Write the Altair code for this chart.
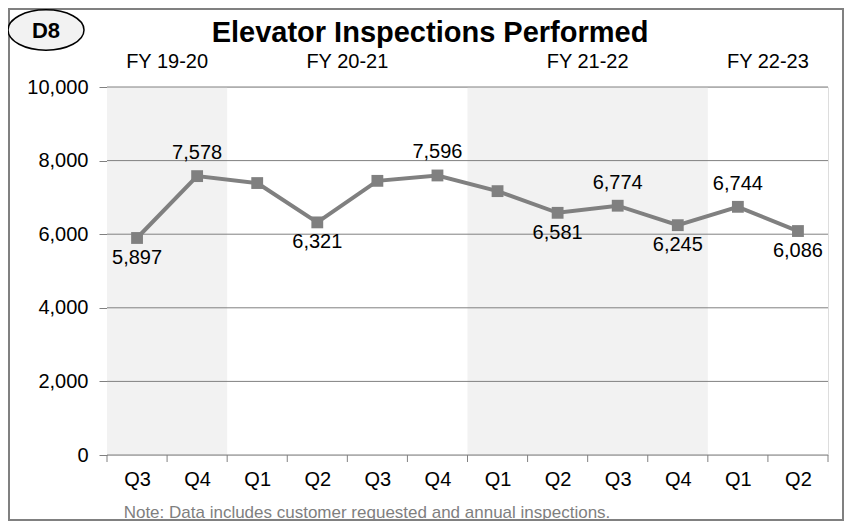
import altair as alt
import pandas as pd

# ---- data ----
quarters = ["Q3", "Q4", "Q1", "Q2", "Q3", "Q4", "Q1", "Q2", "Q3", "Q4", "Q1", "Q2"]
inspections = [5897, 7578, 7390, 6321, 7450, 7596, 7170, 6581, 6774, 6245, 6744, 6086]
label_pos = ["below", "above", "none", "below", "none", "above", "none", "below", "above", "below", "above", "below"]
fy_labels = ["FY 19-20", "FY 20-21", "FY 21-22", "FY 22-23"]
fy_counts = [2, 4, 4, 2]
y_ticks = [0, 2000, 4000, 6000, 8000, 10000]
title_text = "Elevator Inspections Performed"
badge_text = "D8"
note_text = "Note: Data includes customer requested and annual inspections."

FONT = "Liberation Sans"
GRAY = "#808080"
W, H = 721, 368
PL, PT, PR, PB = 99, 79, 16, 66

df = pd.DataFrame({
    "pos": [i + 0.5 for i in range(len(quarters))],
    "q": quarters,
    "v": inspections,
    "lp": label_pos,
})
df["lbl"] = df["v"].map(lambda v: f"{v:,}")

starts = []
s = 0
for c in fy_counts:
    starts.append(s)
    s += c
fy_df = pd.DataFrame({
    "fy": fy_labels,
    "start": starts,
    "end": [a + c for a, c in zip(starts, fy_counts)],
    "mid": [a + c / 2 for a, c in zip(starts, fy_counts)],
    "shade": [i % 2 == 0 for i in range(len(fy_labels))],
})
bounds_df = pd.DataFrame({"b": list(range(len(quarters) + 1))})
one = pd.DataFrame({"k": [0]})

xscale = alt.Scale(domain=[0, len(quarters)], nice=False, zero=False)
yscale = alt.Scale(domain=[0, 10000], nice=False)

label_arr = "[" + ",".join(f"'{q}'" for q in quarters) + "]"

bands = alt.Chart(fy_df).transform_filter("datum.shade").mark_rect(color="#f2f2f2").encode(
    x=alt.X("start:Q", scale=xscale, axis=alt.Axis(
        values=[i + 0.5 for i in range(len(quarters))],
        labelExpr=f"{label_arr}[floor(datum.value)]",
        ticks=False, domain=False, grid=False, title=None,
        labelFont=FONT, labelFontSize=20, labelColor="black", labelPadding=14,
    )),
    x2="end:Q",
    y=alt.value(0),
    y2=alt.value(H),
)

grid = alt.Chart(pd.DataFrame({"t": y_ticks})).mark_rule(color=GRAY, strokeWidth=1).encode(
    y=alt.Y("t:Q", scale=yscale, axis=alt.Axis(
        values=y_ticks, format=",d", title=None, grid=False, domain=False,
        tickColor=GRAY, tickSize=8, tickWidth=1,
        labelFont=FONT, labelFontSize=20, labelColor="black", labelPadding=11,
    )),
)

xticks = alt.Chart(bounds_df).mark_rule(color=GRAY, strokeWidth=1).encode(
    x=alt.X("b:Q", scale=xscale),
    y=alt.value(H),
    y2=alt.value(H + 7),
)

line = alt.Chart(df).mark_line(color=GRAY, strokeWidth=4).encode(
    x=alt.X("pos:Q", scale=xscale),
    y=alt.Y("v:Q", scale=yscale),
)
pts = alt.Chart(df).mark_square(color=GRAY, size=140, opacity=1).encode(
    x=alt.X("pos:Q", scale=xscale),
    y=alt.Y("v:Q", scale=yscale),
)
above = alt.Chart(df).transform_filter("datum.lp == 'above'").mark_text(
    font=FONT, fontSize=20, color="black", baseline="alphabetic", dy=-17
).encode(x=alt.X("pos:Q", scale=xscale), y=alt.Y("v:Q", scale=yscale), text="lbl:N")
below = alt.Chart(df).transform_filter("datum.lp == 'below'").mark_text(
    font=FONT, fontSize=20, color="black", baseline="top", dy=10
).encode(x=alt.X("pos:Q", scale=xscale), y=alt.Y("v:Q", scale=yscale), text="lbl:N")

fy_text = alt.Chart(fy_df).mark_text(
    font=FONT, fontSize=20, color="black", baseline="middle"
).encode(x=alt.X("mid:Q", scale=xscale), y=alt.value(-25), text="fy:N")

frame = alt.Chart(one).mark_rect(fill=None, stroke=GRAY, strokeWidth=2).encode(
    x=alt.value(-PL + 1), x2=alt.value(W + PR - 1),
    y=alt.value(-PT + 1), y2=alt.value(H + PB - 1),
)

title = alt.Chart(one).mark_text(
    font=FONT, fontSize=29, fontWeight="bold", color="black", baseline="middle"
).encode(x=alt.value(323), y=alt.value(-54), text=alt.value(title_text))

ellipse_path = "M -1 0 A 1 0.53 0 1 1 1 0 A 1 0.53 0 1 1 -1 0 Z"
badge = alt.Chart(one).mark_point(
    shape=ellipse_path, size=76 * 76, filled=True, fill="#f2f2f2", stroke="black", strokeWidth=1.5, opacity=1
).encode(x=alt.value(-61), y=alt.value(-57))
badge_t = alt.Chart(one).mark_text(
    font=FONT, fontSize=22, fontWeight="bold", color="black", baseline="middle"
).encode(x=alt.value(-61), y=alt.value(-56), text=alt.value(badge_text))

note = alt.Chart(one).mark_text(
    font="Liberation Sans Narrow, Liberation Sans", fontSize=17, color="#7f7f7f", baseline="middle"
).encode(x=alt.value(260), y=alt.value(426), text=alt.value(note_text))

chart = alt.layer(
    bands, grid, xticks, line, pts, above, below, fy_text, frame, title, badge, badge_t, note
).properties(
    width=W, height=H,
    autosize=alt.AutoSizeParams(type="none"),
    padding={"left": PL, "top": PT, "right": PR, "bottom": PB},
).configure_view(stroke=GRAY, strokeWidth=2).configure(background="white")

chart.save("out.html", embed_options={"renderer": "svg", "actions": False})
